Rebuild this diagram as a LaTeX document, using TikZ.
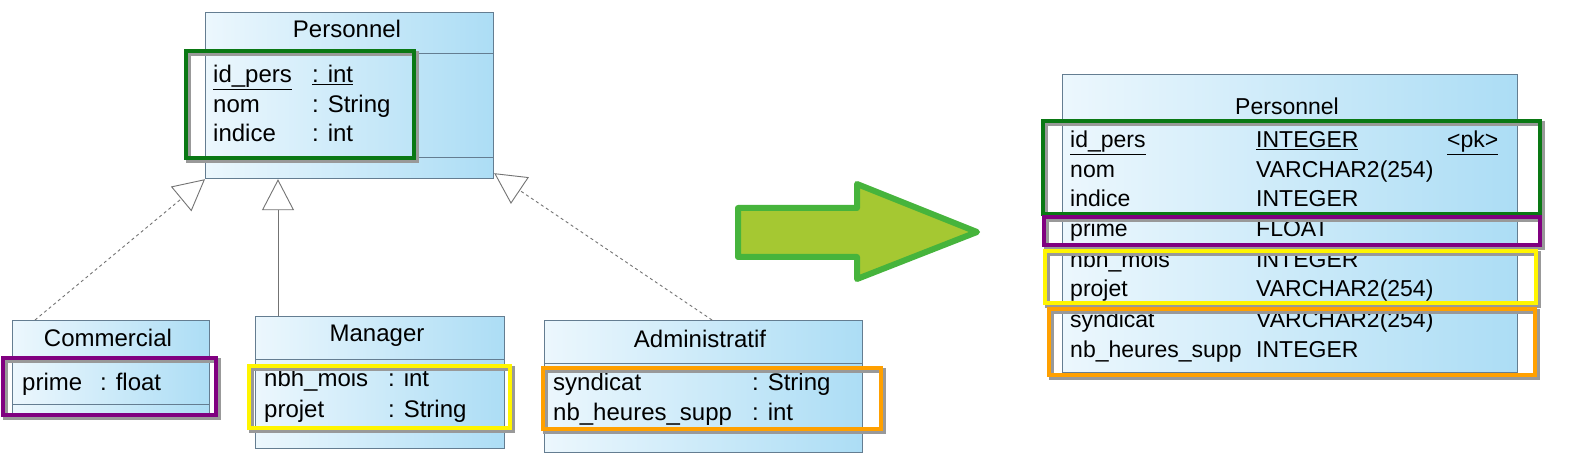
\documentclass[tikz,border=0pt]{standalone}
\usepackage{fontspec}
\setmainfont{Liberation Sans}
\usepackage{tikz}
\usetikzlibrary{arrows.meta,positioning}
\definecolor{umlline}{RGB}{100,125,145}
\definecolor{umllight}{RGB}{236,247,253}
\definecolor{umlblue}{RGB}{172,221,245}
\definecolor{hlgreen}{RGB}{10,120,20}
\definecolor{hlpurple}{RGB}{128,0,128}
\definecolor{hlyellow}{RGB}{255,245,0}
\definecolor{hlorange}{RGB}{255,160,0}
\definecolor{arrowfill}{RGB}{165,200,50}
\definecolor{arrowedge}{RGB}{70,180,60}
\tikzset{
  umlclass/.style={rectangle,draw=umlline,line width=1.2bp,left color=umllight,right color=umlblue,anchor=north west,inner sep=0pt},
  umlsep/.style={draw=umlline,line width=1bp},
  umlname/.style={font=\fontsize{24bp}{28bp}\selectfont,anchor=base,inner sep=0pt},
  umlattr/.style={font=\fontsize{24bp}{28bp}\selectfont,anchor=base west,inner sep=0pt},
  tabattr/.style={font=\fontsize{23bp}{27bp}\selectfont,anchor=base west,inner sep=0pt},
  realize/.style={draw=black!55,line width=0.9bp,dashed,-{Triangle[open,length=31bp,width=32bp,fill=white]}},
  inherit/.style={draw=black!55,line width=0.9bp,-{Triangle[open,length=31bp,width=32bp,fill=white]}},
  hlframe/.style={line width=4.5bp},
  hlshadow/.style={line width=4.5bp,draw=black!40,shift={(2.5bp,-2.5bp)}}
}
\begin{document}
\begin{tikzpicture}[x=1bp,y=-1bp]
\useasboundingbox (0,0) rectangle (1577,476);
\fill[white] (0,0) rectangle (1577,476);
% UML classes
\node[umlclass,minimum width=288bp,minimum height=166bp] (pers) at (205,12) {};
\node[umlclass,minimum width=197bp,minimum height=94bp] (com) at (12,320) {};
\node[umlclass,minimum width=249bp,minimum height=132bp] (man) at (255,316) {};
\node[umlclass,minimum width=318bp,minimum height=132bp] (adm) at (544,320) {};
% compartments
\draw[umlsep] ([yshift=-42bp]pers.north west) -- ([yshift=-42bp]pers.north east);
\draw[umlsep] ([yshift=22bp]pers.south west) -- ([yshift=22bp]pers.south east);
\draw[umlsep] ([yshift=-38bp]com.north west) -- ([yshift=-38bp]com.north east);
\draw[umlsep] ([yshift=11bp]com.south west) -- ([yshift=11bp]com.south east);
\draw[umlsep] ([yshift=-43bp]man.north west) -- ([yshift=-43bp]man.north east);
\draw[umlsep] ([yshift=20bp]man.south west) -- ([yshift=20bp]man.south east);
\draw[umlsep] ([yshift=-43bp]adm.north west) -- ([yshift=-43bp]adm.north east);
\draw[umlsep] ([yshift=22bp]adm.south west) -- ([yshift=22bp]adm.south east);
% class texts
\node[umlname] (persname) at (347,38) {Personnel};
\node[umlattr] (pa1) at (213,83) {\underline{id\_pers}};
\node[umlattr] (pt1) at (312,83) {\underline{: int}};
\node[umlattr] (pa2) at (213,113) {nom};
\node[umlattr] (pt2) at (312,113) {: String};
\node[umlattr] (pa3) at (213,142) {indice};
\node[umlattr] (pt3) at (312,142) {: int};
\node[umlname] (comname) at (108,347) {Commercial};
\node[umlattr] (ca1) at (22,390) {prime};
\node[umlattr] (ct1) at (100,390) {: float};
\node[umlname] (manname) at (377,342) {Manager};
\node[umlattr] (ma1) at (264,387) {nbh\_mois};
\node[umlattr] (mt1) at (388,387) {: int};
\node[umlattr] (ma2) at (264,417) {projet};
\node[umlattr] (mt2) at (388,417) {: String};
\node[umlname] (admname) at (700,348) {Administratif};
\node[umlattr] (aa1) at (553,390) {syndicat};
\node[umlattr] (at1) at (752,390) {: String};
\node[umlattr] (aa2) at (553,420) {nb\_heures\_supp};
\node[umlattr] (at2) at (752,420) {: int};
% generalisation links
\draw[realize] ([xshift=23bp]com.north west) -- (pers.south west);
\draw[inherit] ([xshift=23bp]man.north west) -- ([xshift=23bp]man.north west |- pers.south);
\draw[realize] ([xshift=168bp]adm.north west) -- ([yshift=6bp]pers.south east);
% transformation arrow
\draw[line width=6bp,draw=arrowedge,fill=arrowfill,line join=round]
  (738,208) -- (857,208) -- (857,184) -- (977,232) -- (857,279) -- (857,257) -- (738,257) -- cycle;
% relational table
\node[umlclass,minimum width=455bp,minimum height=298bp] (tab) at (1062,74) {};
\node[umlname,font=\fontsize{23bp}{27bp}\selectfont] (tabname) at (1287,115) {Personnel};
\node[tabattr] (r1) at (1070,148) {\underline{id\_pers}};
\node[tabattr] (s1) at (1256,148) {\underline{INTEGER}};
\node[tabattr] (k1) at (1447,148) {\underline{<pk>}};
\node[tabattr] (r2) at (1070,178) {nom};
\node[tabattr] (s2) at (1256,178) {VARCHAR2(254)};
\node[tabattr] (r3) at (1070,207) {indice};
\node[tabattr] (s3) at (1256,207) {INTEGER};
\node[tabattr] (r4) at (1070,237) {prime};
\node[tabattr] (s4) at (1256,237) {FLOAT};
\node[tabattr] (r5) at (1070,268) {nbh\_mois};
\node[tabattr] (s5) at (1256,268) {INTEGER};
\node[tabattr] (r6) at (1070,297) {projet};
\node[tabattr] (s6) at (1256,297) {VARCHAR2(254)};
\node[tabattr] (r7) at (1070,328) {syndicat};
\node[tabattr] (s7) at (1256,328) {VARCHAR2(254)};
\node[tabattr] (r8) at (1070,358) {nb\_heures\_supp};
\node[tabattr] (s8) at (1256,358) {INTEGER};
% highlight frames
\foreach \a/\b/\c/\d/\col in {186/51/414/158/hlgreen, 3/358/216/415/hlpurple,
    249/366/510/428/hlyellow, 543/368/881/429/hlorange,
    1043/121/1540/214/hlgreen, 1044/217/1540/245/hlpurple,
    1045/251/1536/303/hlyellow, 1049/309/1535/375/hlorange}{
  \draw[hlshadow] (\a,\b) rectangle (\c,\d);
  \draw[hlframe,draw=\col] (\a,\b) rectangle (\c,\d);
}
\end{tikzpicture}
\end{document}
